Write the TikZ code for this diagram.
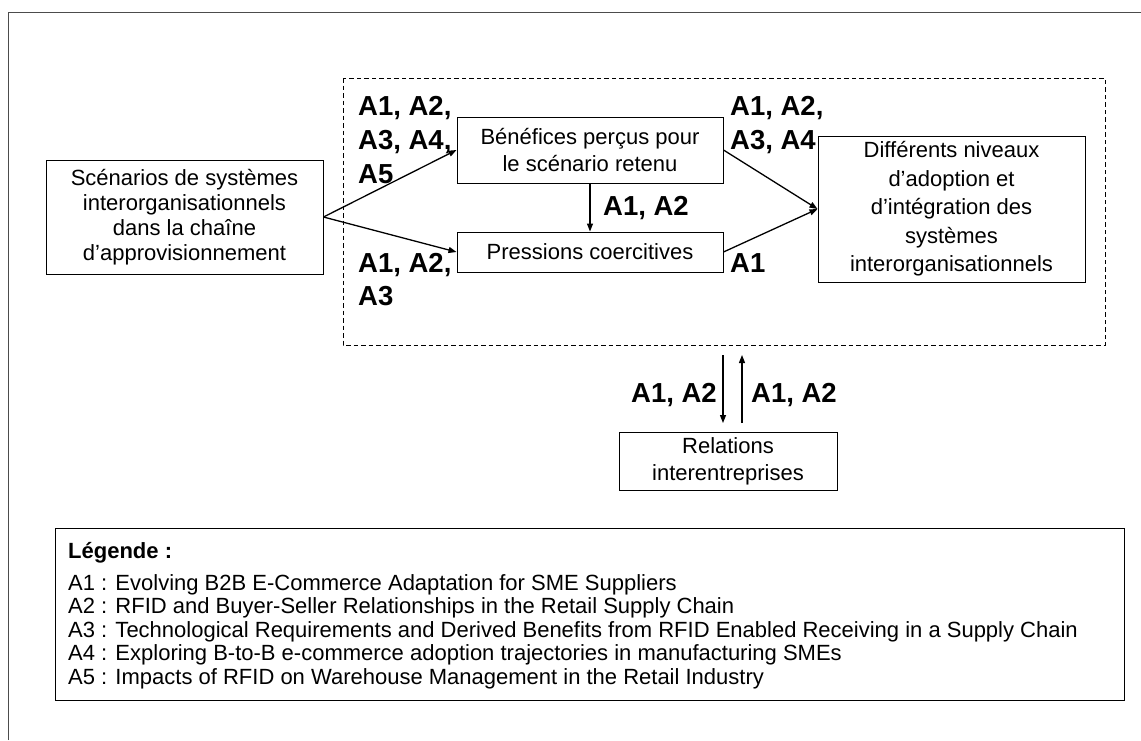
\documentclass[tikz,border=0pt]{standalone}
\usepackage{fontspec}
\setmainfont{Liberation Sans}
\usetikzlibrary{arrows.meta}
\begin{document}
\begin{tikzpicture}[x=1pt,y=-1pt,
  box/.style={draw, line width=1pt, align=center, inner sep=0pt,
    font=\fontsize{22}{25}\selectfont},
  lbl/.style={anchor=base west, inner sep=0pt,
    font=\bfseries\fontsize{27.5}{30}\selectfont},
  lblr/.style={lbl, anchor=base east},
  leg/.style={anchor=base west, inner sep=0pt,
    font=\fontsize{22}{24}\selectfont},
  link/.style={line width=1.3pt, -{Triangle[length=8pt,width=6pt]}},
  frame/.style={line width=0.9pt, black!70},
  group/.style={draw, line width=1pt, dash pattern=on 4.5pt off 3pt}
]
\useasboundingbox (0,0) rectangle (1141,740);

% page frame
\draw[frame] (8,740) -- (8,12) -- (1141,12);

% dashed grouping of the adoption model
\draw[group] (343,78) rectangle (1105,345);

% boxes
\node[box, minimum width=277pt, minimum height=114pt] (scen) at (184.5,217)
  {Scénarios de systèmes\\interorganisationnels\\dans la chaîne\\d’approvisionnement};
\node[box, minimum width=266pt, minimum height=66pt,
  font=\fontsize{22}{27}\selectfont] (bene) at (590,150)
  {Bénéfices perçus pour\\le scénario retenu};
\node[box, minimum width=266pt, minimum height=40pt] (press) at (590,252)
  {Pressions coercitives};
\node[box, minimum width=267pt, minimum height=146pt,
  font=\fontsize{22}{28.5}\selectfont] (adopt) at (951.5,209)
  {Différents niveaux\\d’adoption et\\d’intégration des\\systèmes\\interorganisationnels};
\node[box, minimum width=218pt, minimum height=58pt,
  font=\fontsize{22}{27}\selectfont] (rel) at (728,461)
  {Relations\\interentreprises};

% connectors
\draw[link] (scen.east) -- (bene.west);
\draw[link] (scen.east) -- (press.west);
\draw[link] (bene.south) -- (press.north);
\draw[link] (bene.east) -- (adopt.west);
\draw[link] (press.east) -- (adopt.west);

\coordinate (dTop) at (723,355);
\coordinate (dBot) at (723,423);
\coordinate (uTop) at (742,355);
\coordinate (uBot) at (742,423);
\draw[link] (dTop) -- (dBot);
\draw[link] (uBot) -- (uTop);

% article labels
\node[lbl] (l1a) at (358,115) {A1, A2,};
\node[lbl] (l1b) at (358,149) {A3, A4,};
\node[lbl] (l1c) at (358,183) {A5};
\node[lbl] (l2a) at (358,272) {A1, A2,};
\node[lbl] (l2b) at (358,305) {A3};
\node[lbl] (l3) at (603,215) {A1, A2};
\node[lbl] (l4a) at (730,115) {A1, A2,};
\node[lbl] (l4b) at (730,149) {A3, A4};
\node[lbl] (l5) at (730,272) {A1};
\node[lblr] (l6) at (717,402) {A1, A2};
\node[lbl] (l7) at (751,402) {A1, A2};

% legend
\draw[line width=1pt] (55,528) rectangle (1124,700);
\node[leg, font=\bfseries\fontsize{22}{24}\selectfont] (lg0) at (68,558) {Légende :};
\node[leg] (lg1) at (68,590) {A1 : Evolving B2B E-Commerce Adaptation for SME Suppliers};
\node[leg] (lg2) at (68,613.5) {A2 : RFID and Buyer-Seller Relationships in the Retail Supply Chain};
\node[leg] (lg3) at (68,637) {A3 : Technological Requirements and Derived Benefits from RFID Enabled Receiving in a Supply Chain};
\node[leg] (lg4) at (68,660.5) {A4 : Exploring B-to-B e-commerce adoption trajectories in manufacturing SMEs};
\node[leg] (lg5) at (68,684) {A5 : Impacts of RFID on Warehouse Management in the Retail Industry};
\end{tikzpicture}
\end{document}
